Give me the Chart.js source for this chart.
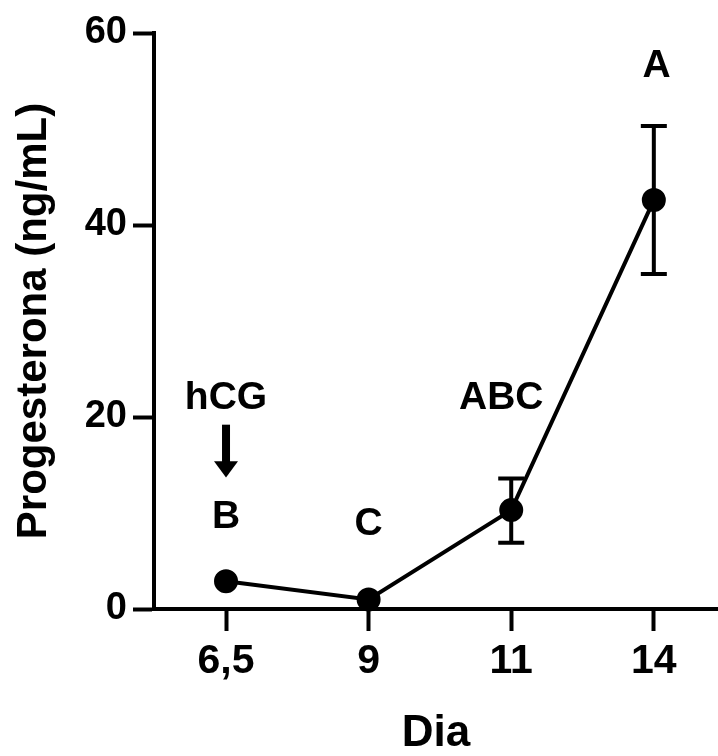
<!DOCTYPE html>
<html>
<head>
<meta charset="utf-8">
<script src="https://cdn.jsdelivr.net/npm/chart.js@4/dist/chart.umd.min.js"></script>
<style>
  html, body { margin: 0; padding: 0; background: #fff; overflow: hidden; }
  #wrap { width: 718px; height: 756px; position: relative; }
  #chart { display: block; }
</style>
</head>
<body>
<div id="wrap"><canvas id="chart"></canvas></div>
<script>
const days = ["6,5", "9", "11", "14"];
const progesterone = [2.9, 1.0, 10.3, 42.6];
const errLow = [null, null, 6.9, 34.9];
const errHigh = [null, null, 13.6, 50.3];
const letters = ["B", "C", "ABC", "A"];
const letterX = [0, 1, 1.93, 3.02];
const letterY = [9.6, 8.8, 22.0, 56.5];

const FONT = "'Liberation Sans', Arial, sans-serif";

/* error bars under the points */
const errorBars = {
    id: "errorBars",
    beforeDatasetsDraw(chart) {
        const { ctx, scales: { x, y } } = chart;
        ctx.save();
        ctx.strokeStyle = "#000";
        ctx.lineWidth = 4;
        days.forEach((d, i) => {
            if (errLow[i] == null) return;
            const px = x.getPixelForValue(i);
            const lo = y.getPixelForValue(errLow[i]);
            const hi = y.getPixelForValue(errHigh[i]);
            ctx.beginPath();
            ctx.moveTo(px, lo);
            ctx.lineTo(px, hi);
            ctx.moveTo(px - 13, lo);
            ctx.lineTo(px + 13, lo);
            ctx.moveTo(px - 13, hi);
            ctx.lineTo(px + 13, hi);
            ctx.stroke();
        });
        ctx.restore();
    }
};

/* significance letters and hCG marker */
const annotations = {
    id: "annotations",
    afterDatasetsDraw(chart) {
        const { ctx, scales: { x, y } } = chart;
        ctx.save();
        ctx.fillStyle = "#000";
        ctx.textAlign = "center";
        ctx.textBaseline = "middle";
        ctx.font = "bold 39px " + FONT;
        letters.forEach((t, i) => {
            ctx.fillText(t, x.getPixelForValue(letterX[i]), y.getPixelForValue(letterY[i]));
        });
        ctx.fillText("hCG", x.getPixelForValue(0), y.getPixelForValue(22.0));

        // arrow
        const ax = x.getPixelForValue(0);
        const top = y.getPixelForValue(19.2);
        const headTop = y.getPixelForValue(15.4);
        const tip = y.getPixelForValue(13.7);
        ctx.fillRect(ax - 4, top, 8, headTop - top + 1);
        ctx.beginPath();
        ctx.moveTo(ax - 12, headTop);
        ctx.lineTo(ax + 12, headTop);
        ctx.lineTo(ax, tip);
        ctx.closePath();
        ctx.fill();
        ctx.restore();
    }
};

new Chart(document.getElementById("chart"), {
    type: "line",
    data: {
        datasets: [{
            data: progesterone.map((v, i) => ({ x: i, y: v })),
            borderColor: "#000",
            borderWidth: 4,
            backgroundColor: "#000",
            pointBackgroundColor: "#000",
            pointBorderColor: "#000",
            pointRadius: 10,
            pointHoverRadius: 10,
            fill: false,
            tension: 0,
            clip: false
        }]
    },
    options: {
        responsive: true,
        maintainAspectRatio: false,
        animation: false,
        layout: { autoPadding: false, padding: { top: 33, right: 0, left: 0, bottom: 0 } },
        plugins: {
            legend: { display: false },
            tooltip: { enabled: false }
        },
        scales: {
            x: {
                type: "linear",
                min: -0.505,
                max: 3.45,
                afterBuildTicks: axis => { axis.ticks = days.map((d, i) => ({ value: i })); },
                afterFit: axis => {
                    axis.height = 147;
                    axis.paddingLeft = 0;
                    axis.paddingRight = 0;
                },
                border: { color: "#000", width: 4 },
                grid: {
                    drawOnChartArea: false,
                    drawTicks: true,
                    tickLength: 22,
                    tickWidth: 4,
                    tickColor: "#000"
                },
                ticks: {
                    color: "#000",
                    padding: 6,
                    font: { family: FONT, size: 41, weight: "bold" },
                    callback: v => days[v]
                },
                title: {
                    display: true,
                    text: "Dia",
                    color: "#000",
                    font: { family: FONT, size: 44, weight: "bold", lineHeight: 1 },
                    padding: { top: 0, bottom: 0 }
                }
            },
            y: {
                min: 0,
                max: 60,
                afterFit: axis => {
                    axis.width = 154;
                    axis.paddingTop = 0;
                    axis.paddingBottom = 0;
                },
                border: { color: "#000", width: 4 },
                grid: {
                    drawOnChartArea: false,
                    drawTicks: true,
                    tickLength: 21,
                    tickWidth: 4,
                    tickColor: "#000"
                },
                ticks: {
                    stepSize: 20,
                    color: "#000",
                    padding: 6,
                    font: { family: FONT, size: 38, weight: "bold" }
                },
                title: {
                    display: true,
                    text: "Progesterona (ng/mL)",
                    color: "#000",
                    font: { family: FONT, size: 42, weight: "bold", lineHeight: 1 },
                    padding: { top: 13, bottom: 0 }
                }
            }
        }
    },
    plugins: [errorBars, annotations]
});
</script>
</body>
</html>
